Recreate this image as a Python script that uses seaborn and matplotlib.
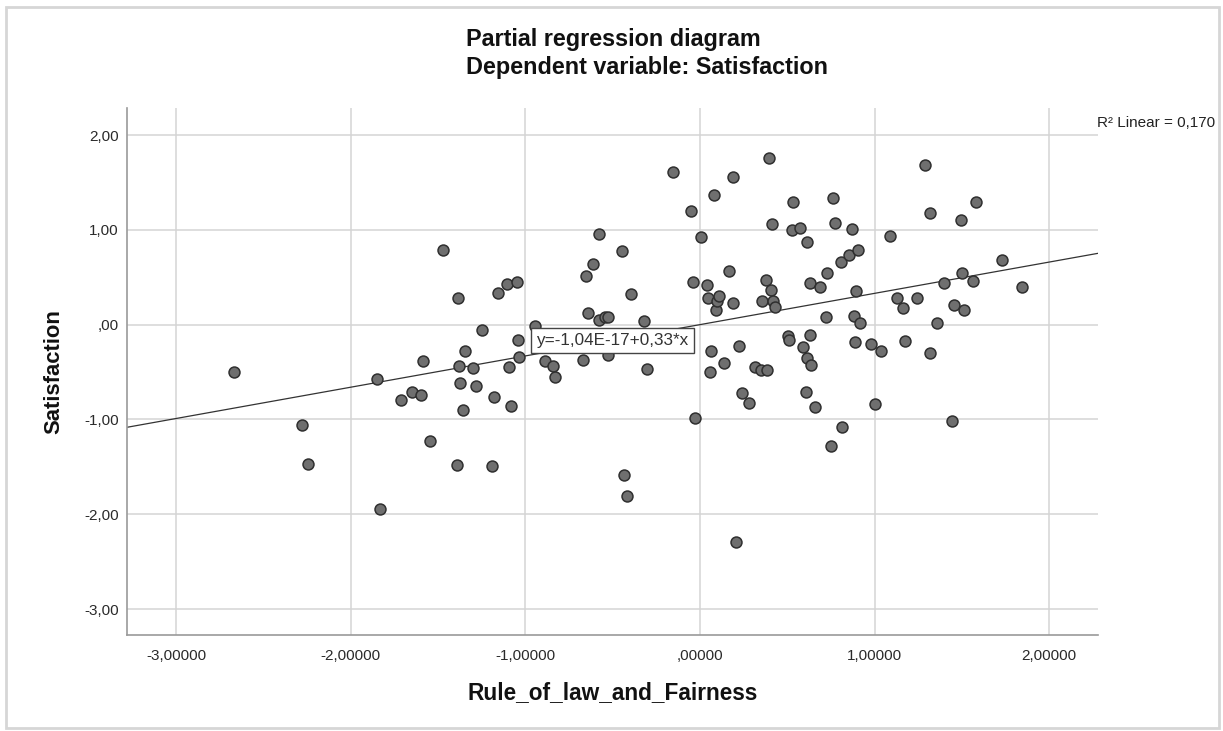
import numpy as np
import pandas as pd
import matplotlib
matplotlib.use("Agg")
import matplotlib.pyplot as plt
import seaborn as sns
from matplotlib.patches import Rectangle

# partial residuals
rule_of_law = [
    -2.668, -2.280, -2.246, -1.835, -1.850, -1.711, -1.650, -1.600, -1.588, -1.544,
    -1.471, -1.391, -1.384, -1.382, -1.376, -1.355, -1.347, -1.298, -1.284, -1.248,
    -1.189, -1.183, -1.160, -1.108, -1.097, -1.084, -1.047, -1.036, -1.040, -0.946,
    -0.889, -0.841, -0.831, -0.669, -0.656, -0.644, -0.613, -0.577, -0.577, -0.545,
    -0.526, -0.526, -0.445, -0.434, -0.420, -0.394, -0.321, -0.306, -0.157, -0.050,
    -0.042, -0.031, 0.004, 0.040, 0.046, 0.057, 0.063, 0.078, 0.094, 0.096,
    0.111, 0.138, 0.166, 0.187, 0.191, 0.206, 0.225, 0.239, 0.283, 0.313,
    0.348, 0.354, 0.378, 0.386, 0.392, 0.407, 0.413, 0.420, 0.430, 0.506,
    0.512, 0.526, 0.531, 0.573, 0.587, 0.608, 0.612, 0.613, 0.627, 0.631,
    0.636, 0.658, 0.685, 0.724, 0.726, 0.751, 0.759, 0.772, 0.807, 0.814,
    0.852, 0.873, 0.883, 0.887, 0.894, 0.906, 0.914, 0.981, 0.999, 1.034,
    1.086, 1.126, 1.162, 1.172, 1.242, 1.290, 1.315, 1.315, 1.357, 1.395,
    1.443, 1.453, 1.497, 1.499, 1.510, 1.563, 1.583, 1.730, 1.844,
]
satisfaction = [
    -0.500, -1.058, -1.466, -1.944, -0.570, -0.790, -0.714, -0.742, -0.385, -1.227,
    0.790, -1.480, 0.285, -0.432, -0.612, -0.904, -0.278, -0.460, -0.647, -0.056,
    -1.487, -0.760, 0.330, 0.425, -0.446, -0.858, 0.450, -0.345, -0.158, -0.015,
    -0.387, -0.440, -0.555, -0.369, 0.510, 0.127, 0.640, 0.960, 0.053, 0.081,
    0.084, -0.316, 0.773, -1.590, -1.807, 0.324, 0.042, -0.464, 1.614, 1.203,
    0.450, -0.988, 0.928, 0.422, 0.285, -0.499, -0.281, 1.371, 0.158, 0.253,
    0.300, -0.404, 0.570, 0.232, 1.558, -2.296, -0.222, -0.720, -0.826, -0.446,
    -0.475, 0.253, 0.471, -0.482, 1.758, 0.369, 1.062, 0.253, 0.183, -0.123,
    -0.158, 0.995, 1.290, 1.020, -0.239, -0.710, -0.351, 0.868, 0.440, -0.105,
    -0.422, -0.865, 0.400, 0.077, 0.545, -1.283, 1.340, 1.069, 0.661, -1.079,
    0.731, 1.013, 0.088, -0.179, 0.352, 0.791, 0.018, -0.204, -0.833, -0.281,
    0.935, 0.281, 0.172, -0.176, 0.277, 1.685, 1.174, -0.295, 0.021, 0.440,
    -1.020, 0.204, 1.108, 0.549, 0.151, 0.457, 1.294, 0.686, 0.400,
]

fit_intercept = -1.04e-17
fit_slope = 0.33
fit_label = "y=-1,04E-17+0,33*x"
r2_label = "R² Linear = 0,170"

x_ticks = [-3, -2, -1, 0, 1, 2]
x_tick_labels = ["-3,00000", "-2,00000", "-1,00000", ",00000", "1,00000", "2,00000"]
y_ticks = [2, 1, 0, -1, -2, -3]
y_tick_labels = ["2,00", "1,00", ",00", "-1,00", "-2,00", "-3,00"]

df = pd.DataFrame({"Rule_of_law_and_Fairness": rule_of_law,
                   "Satisfaction": satisfaction})

sns.set_style("white")
plt.rcParams["font.family"] = ["Liberation Sans", "DejaVu Sans"]

W, H = 1223, 731
fig = plt.figure(figsize=(W / 100, H / 100), dpi=100)
ax = fig.add_axes([127 / W, (H - 635) / H, (1098 - 127) / W, (635 - 108) / H])

# fit line first, points on top
ax.axline((0, fit_intercept), slope=fit_slope, color="#333333", lw=0.9, zorder=2)
sns.scatterplot(data=df, x="Rule_of_law_and_Fairness", y="Satisfaction", ax=ax,
                s=62, color="#6f6f6f", edgecolor="#2f2f2f", linewidth=1.1,
                zorder=3)

ax.set_xlim(-3.282, 2.279)
ax.set_ylim(-3.274, 2.285)
ax.set_xticks(x_ticks)
ax.set_xticklabels(x_tick_labels)
ax.set_yticks(y_ticks)
ax.set_yticklabels(y_tick_labels)
ax.grid(True, color="#d4d4d4", lw=1.1)
ax.set_axisbelow(True)
ax.tick_params(axis="both", length=0, labelsize=11, colors="#2a2a2a")
ax.tick_params(axis="x", pad=10)
ax.tick_params(axis="y", pad=6)
for side in ["top", "right"]:
    ax.spines[side].set_visible(False)
for side in ["left", "bottom"]:
    ax.spines[side].set_color("#9a9a9a")
    ax.spines[side].set_linewidth(1.2)

ax.set_xlabel("Rule_of_law_and_Fairness", fontsize=16.3, fontweight="bold",
              color="#111111")
ax.set_ylabel("Satisfaction", fontsize=15.8, fontweight="bold", color="#111111")
ax.xaxis.set_label_coords(0.5, -(681 - 635) / (635 - 108))
ax.yaxis.set_label_coords((64 - 127) / (1098 - 127), 0.5)

# equation label sitting on the fit line
ax.text(-0.502, -0.164, fit_label, fontsize=12.3, color="#333333",
        ha="center", va="center", zorder=4,
        bbox=dict(boxstyle="square,pad=0.3", facecolor="white",
                  edgecolor="#444444", lw=1))

# title block and R² note
fig.text(466 / W, 1 - 46 / H, "Partial regression diagram", fontsize=16.8,
         fontweight="bold", ha="left", va="baseline", color="#111111")
fig.text(466 / W, 1 - 74 / H, "Dependent variable: Satisfaction", fontsize=16.8,
         fontweight="bold", ha="left", va="baseline", color="#111111")
fig.text(1097 / W, 1 - 123 / H, r2_label, fontsize=11, ha="left",
         va="center", color="#222222")

# screenshot frame
fig.patches.append(Rectangle((6 / W, 3 / H), (1219 - 6) / W, (724 - 3) / H,
                             transform=fig.transFigure, fill=False,
                             edgecolor="#d6d6d6", lw=2))

fig.savefig("out.png", dpi=100)
